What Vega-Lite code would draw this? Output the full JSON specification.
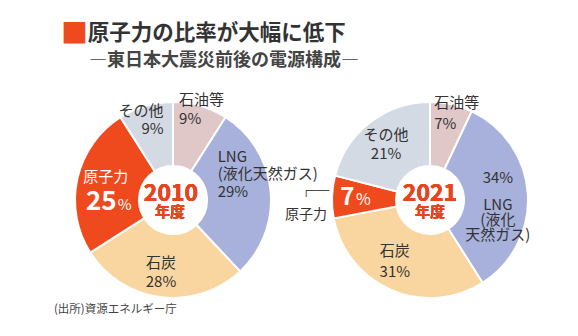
{
  "$schema": "https://vega.github.io/schema/vega-lite/v6.json",
  "padding": {"left": 53, "top": 20, "right": 0, "bottom": 0},
  "background": "white",
  "config": {
    "view": {"stroke": null},
    "font": "Noto Sans CJK JP",
    "text": {"font": "Noto Sans CJK JP"}
  },
  "datasets": {
    "y2010": [
      {"source": "石油等", "pct": 9, "order": 1, "label": "石油等\n9%", "pctLabel": "9%"},
      {"source": "LNG", "pct": 29, "order": 2, "label": "LNG\n(液化天然ガス)\n29%", "pctLabel": "29%"},
      {"source": "石炭", "pct": 28, "order": 3, "label": "石炭\n28%", "pctLabel": "28%"},
      {"source": "原子力", "pct": 25, "order": 4, "label": "原子力", "pctLabel": "25%"},
      {"source": "その他", "pct": 9, "order": 5, "label": "その他\n9%", "pctLabel": "9%"}
    ],
    "y2021": [
      {"source": "石油等", "pct": 7, "order": 1, "label": "石油等\n7%", "pctLabel": "7%"},
      {"source": "LNG", "pct": 34, "order": 2, "label": "LNG\n(液化\n天然ガス)", "pctLabel": "34%"},
      {"source": "石炭", "pct": 31, "order": 3, "label": "石炭\n31%", "pctLabel": "31%"},
      {"source": "原子力", "pct": 7, "order": 4, "label": "原子力", "pctLabel": "7%"},
      {"source": "その他", "pct": 21, "order": 5, "label": "その他\n21%", "pctLabel": "21%"}
    ]
  },
  "title": {
    "text": "■",
    "color": "#ef4a1e",
    "fontSize": 27,
    "fontWeight": "normal",
    "font": "Noto Sans CJK JP",
    "subtitle": "\u200b\u3000\u2005原子力の比率が大幅に低下",
    "subtitleColor": "#333333",
    "subtitleFontSize": 21.5,
    "subtitleFontWeight": "bold",
    "subtitleFont": "Noto Sans CJK JP",
    "subtitlePadding": -26,
    "anchor": "start",
    "dx": 7,
    "offset": 3
  },
  "vconcat": [
    {
      "title": {
        "text": "―東日本大震災前後の電源構成―",
        "fontSize": 18,
        "fontWeight": "bold",
        "color": "#444444",
        "font": "Noto Sans CJK JP",
        "anchor": "start",
        "dx": 35,
        "offset": 19.5
      },
      "vconcat": [
        {
          "title": {
            "text": "(出所)資源エネルギー庁",
            "orient": "bottom",
            "anchor": "start",
            "fontSize": 11.5,
            "fontWeight": "normal",
            "color": "#444444",
            "font": "Noto Sans CJK JP",
            "dx": -12.2,
            "offset": 1.5
          },
          "spacing": 57,
          "bounds": "flush",
          "hconcat": [
            {
              "width": 200,
              "height": 200,
              "data": {"name": "y2010"},
              "encoding": {
                "theta": {"field": "pct", "type": "quantitative", "stack": true},
                "order": {"field": "order", "type": "quantitative"}
              },
              "layer": [
                {
                  "mark": {"type": "arc", "outerRadius": 98, "innerRadius": 34, "stroke": "white", "strokeWidth": 2},
                  "encoding": {
                    "color": {
                      "field": "source", "type": "nominal", "legend": null,
                      "scale": {"domain": ["石油等", "LNG", "石炭", "原子力", "その他"], "range": ["#e0c7c8", "#a7b1db", "#f9d6a0", "#ef4a1e", "#d4dae4"]}
                    }
                  }
                },
                {
                  "mark": {"type": "text", "text": "2010", "fontSize": 23, "fontWeight": "bold", "color": "#e8451f", "dx": -2, "dy": -6, "baseline": "middle"},
                  "encoding": {"theta": null}
                },
                {
                  "mark": {"type": "text", "text": "年度", "fontSize": 15, "fontWeight": "bold", "color": "#e8451f", "dx": -3, "dy": 12, "baseline": "middle"},
                  "encoding": {"theta": null}
                },
                {
                  "mark": {"type": "text", "radius": 90, "dx": -19, "dy": -13.5, "align": "left", "baseline": "middle", "lineBreak": "\n", "lineHeight": 19, "fontSize": 15, "color": "#333333"},
                  "encoding": {"text": {"condition": {"test": "datum.source === '石油等'", "field": "label"}, "value": ""}}
                },
                {
                  "mark": {"type": "text", "radius": 70, "dx": -25, "dy": -36.5, "align": "left", "baseline": "middle", "lineBreak": "\n", "lineHeight": 17.5, "fontSize": 15, "color": "#333333"},
                  "encoding": {"text": {"condition": {"test": "datum.source === 'LNG'", "field": "label"}, "value": ""}}
                },
                {
                  "mark": {"type": "text", "radius": 72, "dx": -3, "dy": -8.25, "align": "center", "baseline": "middle", "lineBreak": "\n", "lineHeight": 18.5, "fontSize": 15, "color": "#333333"},
                  "encoding": {"text": {"condition": {"test": "datum.source === '石炭'", "field": "label"}, "value": ""}}
                },
                {
                  "mark": {"type": "text", "radius": 84, "dx": 14, "dy": -8, "align": "right", "baseline": "middle", "lineBreak": "\n", "lineHeight": 18, "fontSize": 15, "color": "#333333"},
                  "encoding": {"text": {"condition": {"test": "datum.source === 'その他'", "field": "label"}, "value": ""}}
                },
                {
                  "mark": {"type": "text", "radius": 68, "dx": -1, "dy": -8, "align": "center", "baseline": "middle", "fontSize": 15, "color": "white"},
                  "encoding": {"text": {"condition": {"test": "datum.source === '原子力'", "field": "label"}, "value": ""}}
                },
                {
                  "mark": {"type": "text", "radius": 68, "dx": 10, "dy": 25, "align": "right", "baseline": "alphabetic", "fontSize": 26, "fontWeight": "bold", "color": "white"},
                  "encoding": {"text": {"condition": {"test": "datum.source === '原子力'", "field": "pct"}, "value": ""}}
                },
                {
                  "mark": {"type": "text", "radius": 68, "dx": 11, "dy": 25, "align": "left", "baseline": "alphabetic", "fontSize": 15, "color": "white"},
                  "encoding": {"text": {"condition": {"test": "datum.source === '原子力'", "value": "%"}, "value": ""}}
                }
              ]
            },
            {
              "width": 200,
              "height": 200,
              "data": {"name": "y2021"},
              "encoding": {
                "theta": {"field": "pct", "type": "quantitative", "stack": true},
                "order": {"field": "order", "type": "quantitative"}
              },
              "layer": [
                {
                  "mark": {"type": "arc", "outerRadius": 98, "innerRadius": 34, "stroke": "white", "strokeWidth": 2},
                  "encoding": {
                    "color": {
                      "field": "source", "type": "nominal", "legend": null,
                      "scale": {"domain": ["石油等", "LNG", "石炭", "原子力", "その他"], "range": ["#e0c7c8", "#a7b1db", "#f9d6a0", "#ef4a1e", "#d4dae4"]}
                    }
                  }
                },
                {
                  "mark": {"type": "text", "text": "2021", "fontSize": 23, "fontWeight": "bold", "color": "#e8451f", "dx": 0, "dy": -6, "baseline": "middle"},
                  "encoding": {"theta": null}
                },
                {
                  "mark": {"type": "text", "text": "年度", "fontSize": 15, "fontWeight": "bold", "color": "#e8451f", "dx": 0, "dy": 11.5, "baseline": "middle"},
                  "encoding": {"theta": null}
                },
                {
                  "mark": {"type": "text", "radius": 88, "dx": -15, "dy": -11.5, "align": "left", "baseline": "middle", "lineBreak": "\n", "lineHeight": 21, "fontSize": 15, "color": "#333333"},
                  "encoding": {"text": {"condition": {"test": "datum.source === '石油等'", "field": "label"}, "value": ""}}
                },
                {
                  "mark": {"type": "text", "radius": 67, "dx": 1, "dy": -18, "align": "center", "baseline": "middle", "fontSize": 15, "color": "#333333"},
                  "encoding": {"text": {"condition": {"test": "datum.source === 'LNG'", "field": "pctLabel"}, "value": ""}}
                },
                {
                  "mark": {"type": "text", "radius": 67, "dx": 1, "dy": 9, "align": "center", "baseline": "middle", "lineBreak": "\n", "lineHeight": 15, "fontSize": 15, "color": "#333333"},
                  "encoding": {"text": {"condition": {"test": "datum.source === 'LNG'", "field": "label"}, "value": ""}}
                },
                {
                  "mark": {"type": "text", "radius": 66, "dx": -9, "dy": -9.5, "align": "center", "baseline": "middle", "lineBreak": "\n", "lineHeight": 21, "fontSize": 15, "color": "#333333"},
                  "encoding": {"text": {"condition": {"test": "datum.source === '石炭'", "field": "label"}, "value": ""}}
                },
                {
                  "mark": {"type": "text", "radius": 70, "dx": -1, "dy": -9.25, "align": "center", "baseline": "middle", "lineBreak": "\n", "lineHeight": 18.5, "fontSize": 15, "color": "#333333"},
                  "encoding": {"text": {"condition": {"test": "datum.source === 'その他'", "field": "label"}, "value": ""}}
                },
                {
                  "mark": {"type": "text", "radius": 75, "dx": -0.5, "dy": 7.5, "align": "right", "baseline": "alphabetic", "fontSize": 24, "fontWeight": "bold", "color": "white"},
                  "encoding": {"text": {"condition": {"test": "datum.source === '原子力'", "field": "pct"}, "value": ""}}
                },
                {
                  "mark": {"type": "text", "radius": 75, "dx": 1, "dy": 7.5, "align": "left", "baseline": "alphabetic", "fontSize": 16, "color": "white"},
                  "encoding": {"text": {"condition": {"test": "datum.source === '原子力'", "value": "%"}, "value": ""}}
                },
                {
                  "mark": {"type": "text", "radius": 75, "dx": -49, "dy": 17.5, "align": "center", "baseline": "middle", "fontSize": 14, "color": "#333333"},
                  "encoding": {"text": {"condition": {"test": "datum.source === '原子力'", "field": "label"}, "value": ""}}
                },
                {
                  "mark": {"type": "text", "radius": 75, "dx": -52.3, "dy": -3.3, "align": "left", "baseline": "alphabetic", "fontSize": 11, "font": "DejaVu Sans Mono", "color": "#444444"},
                  "encoding": {"text": {"condition": {"test": "datum.source === '原子力'", "value": "┌───"}, "value": ""}}
                }
              ]
            }
          ]
        }
      ]
    }
  ]
}
